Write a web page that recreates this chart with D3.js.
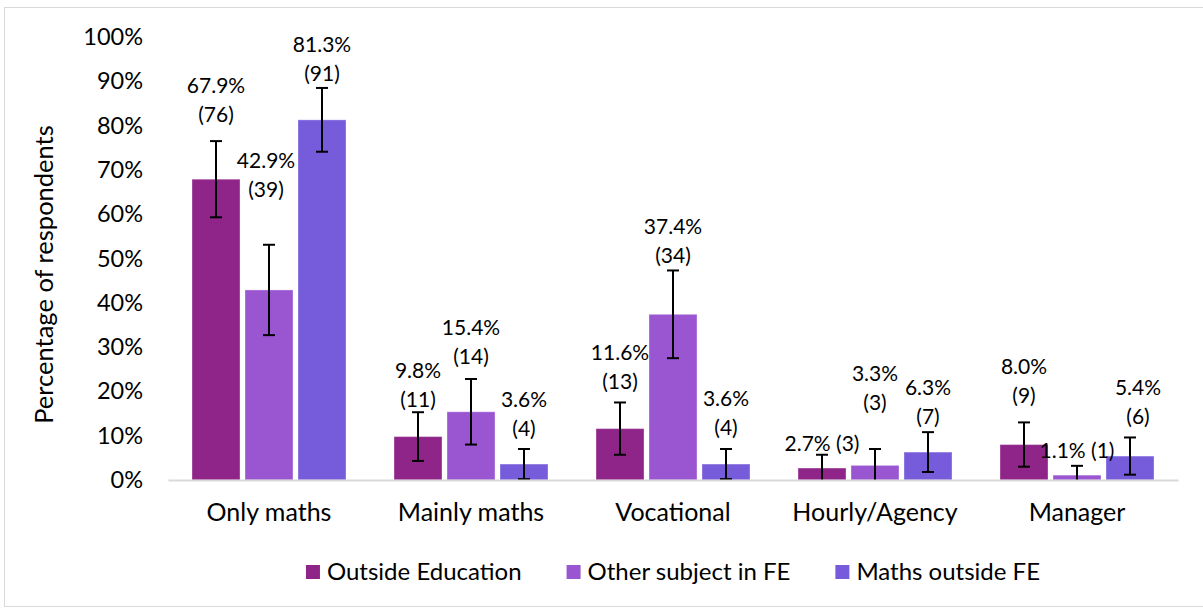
<!DOCTYPE html>
<html>
<head>
<meta charset="utf-8">
<script src="https://cdn.jsdelivr.net/npm/d3@7"></script>
<style>
  body { margin: 0; background: #fff; }
  text { font-family: Lato, "Noto Sans", sans-serif; fill: #000; }
</style>
</head>
<body>
<div id="chart"></div>
<script>
// Categories and series
const categories = ['Only maths', 'Mainly maths', 'Vocational', 'Hourly/Agency', 'Manager'];
const seriesNames = ['Outside Education', 'Other subject in FE', 'Maths outside FE'];

// Percent values
const outsideEducation = [67.9, 9.8, 11.6, 2.7, 8.0];
const otherSubjectFE = [42.9, 15.4, 37.4, 3.3, 1.1];
const mathsOutsideFE = [81.3, 3.6, 3.6, 6.3, 5.4];

// Counts
const outsideEducationN = [76, 11, 13, 3, 9];
const otherSubjectFEN = [39, 14, 34, 3, 1];
const mathsOutsideFEN = [91, 4, 4, 7, 6];

// Error bar half-widths (percentage points)
const outsideEducationErr = [8.6, 5.5, 5.9, 3.0, 5.0];
const otherSubjectFEErr = [10.2, 7.4, 9.9, 3.7, 2.1];
const mathsOutsideFEErr = [7.2, 3.4, 3.4, 4.5, 4.2];

// Where the data labels sit (value on the y scale of the first line)
const outsideEducationLabelAt = [89.2, 24.8, 28.9, 8.4, 25.7];
const otherSubjectFELabelAt = [72.2, 34.5, 57.3, 24.2, 6.8];
const mathsOutsideFELabelAt = [98.4, 18.3, 18.5, 21.0, 21.0];
const labelOneLine = [[false, false, false, true, false], [false, false, false, false, true], [false, false, false, false, false]];
const labelDx = [[0, 0, 0, 0, 0], [-3, 0, 0, 0, 0], [0, 0, 0, 0, 8]];

const yTicks = [0, 10, 20, 30, 40, 50, 60, 70, 80, 90, 100];
const colors = ['#8F2589', '#9A55D1', '#765CDA'];

const values = [outsideEducation, otherSubjectFE, mathsOutsideFE];
const counts = [outsideEducationN, otherSubjectFEN, mathsOutsideFEN];
const errs = [outsideEducationErr, otherSubjectFEErr, mathsOutsideFEErr];
const labelAt = [outsideEducationLabelAt, otherSubjectFELabelAt, mathsOutsideFELabelAt];

const W = 1203, H = 612;
const plot = { left: 168, right: 1178, top: 37, bottom: 480 };

const svg = d3.select('#chart').append('svg')
  .attr('width', W)
  .attr('height', H);

// Outer frame
svg.append('rect')
  .attr('x', 4.5).attr('y', 7.5)
  .attr('width', W - 4).attr('height', 599)
  .attr('fill', '#fff')
  .attr('stroke', '#d9d9d9')
  .attr('stroke-width', 1);

const x0 = d3.scaleBand()
  .domain(categories)
  .range([plot.left, plot.right])
  .paddingInner(0.2376)
  .paddingOuter(0.1188);

const x1 = d3.scaleBand()
  .domain(d3.range(seriesNames.length))
  .range([0, x0.bandwidth()])
  .paddingInner(0.094);

const y = d3.scaleLinear()
  .domain([0, 100])
  .range([plot.bottom, plot.top]);

// Y axis (labels only)
const yAxis = svg.append('g')
  .attr('transform', `translate(${plot.left},0)`)
  .call(d3.axisLeft(y).tickValues(yTicks).tickSize(0).tickPadding(25).tickFormat(d => d + '%'));
yAxis.select('.domain').remove();
yAxis.selectAll('text')
  .attr('font-size', '23.5px')
  .style('font-family', 'Lato, sans-serif')
  .attr('fill', '#000');

// Y axis title
svg.append('text')
  .attr('transform', `translate(53,${(plot.top + plot.bottom) / 2 + 16}) rotate(-90)`)
  .attr('text-anchor', 'middle')
  .attr('font-size', '25.5px')
  .text('Percentage of respondents');

// Bars
const groups = svg.append('g').selectAll('g')
  .data(categories)
  .join('g')
  .attr('transform', d => `translate(${x0(d)},0)`);

seriesNames.forEach((name, s) => {
  groups.append('rect')
    .attr('x', x1(s))
    .attr('y', (d, i) => y(values[s][i]))
    .attr('width', x1.bandwidth())
    .attr('height', (d, i) => y(0) - y(values[s][i]))
    .attr('fill', colors[s])
    .attr('stroke', '#fff')
    .attr('stroke-opacity', 0.35)
    .attr('stroke-width', 1);
});

// X axis line
const xAxis = svg.append('g')
  .attr('transform', `translate(0,${plot.bottom})`)
  .call(d3.axisBottom(x0).tickSize(0).tickPadding(23));
xAxis.select('.domain')
  .attr('stroke', '#d9d9d9')
  .attr('stroke-width', 2);
xAxis.selectAll('text')
  .attr('font-size', '25px')
  .style('font-family', 'Lato, sans-serif')
  .attr('fill', '#000');

// Error bars
const cap = 6;
seriesNames.forEach((name, s) => {
  const eb = groups.append('g')
    .attr('stroke', '#000')
    .attr('stroke-width', 2);
  eb.append('line')
    .attr('x1', x1(s) + x1.bandwidth() / 2)
    .attr('x2', x1(s) + x1.bandwidth() / 2)
    .attr('y1', (d, i) => y(values[s][i] + errs[s][i]))
    .attr('y2', (d, i) => y(Math.max(0, values[s][i] - errs[s][i])));
  eb.append('line')
    .attr('x1', x1(s) + x1.bandwidth() / 2 - cap)
    .attr('x2', x1(s) + x1.bandwidth() / 2 + cap)
    .attr('y1', (d, i) => y(values[s][i] + errs[s][i]))
    .attr('y2', (d, i) => y(values[s][i] + errs[s][i]));
  eb.append('line')
    .attr('x1', x1(s) + x1.bandwidth() / 2 - cap)
    .attr('x2', x1(s) + x1.bandwidth() / 2 + cap)
    .attr('y1', (d, i) => y(Math.max(0, values[s][i] - errs[s][i])))
    .attr('y2', (d, i) => y(Math.max(0, values[s][i] - errs[s][i])))
    .attr('stroke-opacity', (d, i) => values[s][i] - errs[s][i] < 0 ? 0 : 1);
});

// Data labels
seriesNames.forEach((name, s) => {
  const lbl = groups.append('text')
    .attr('text-anchor', 'middle')
    .attr('font-size', '21px')
    .attr('x', (d, i) => x1(s) + x1.bandwidth() / 2 + labelDx[s][i])
    .attr('y', (d, i) => y(labelAt[s][i]) + 8);
  lbl.each(function(d, i) {
    const t = d3.select(this);
    const pct = values[s][i].toFixed(1) + '%';
    const cnt = '(' + counts[s][i] + ')';
    if (labelOneLine[s][i]) {
      t.text(pct + ' ' + cnt);
    } else {
      t.append('tspan').attr('x', t.attr('x')).text(pct);
      t.append('tspan').attr('x', t.attr('x')).attr('dy', 29).text(cnt);
    }
  });
});

// Legend
const legend = svg.append('g').attr('transform', `translate(0,572)`);
const items = legend.selectAll('g')
  .data(seriesNames)
  .join('g');
items.append('rect')
  .attr('y', -7)
  .attr('width', 14)
  .attr('height', 14)
  .attr('fill', (d, i) => colors[i]);
items.append('text')
  .attr('x', 21)
  .attr('y', 8)
  .attr('font-size', '24px')
  .text(d => d);

const widths = [];
items.each(function() {
  widths.push(this.getBBox().width);
});
const gap = 45;
const total = d3.sum(widths) + gap * (widths.length - 1);
let start = (plot.left + plot.right) / 2 - total / 2;
items.attr('transform', (d, i) => {
  const tx = start;
  start += widths[i] + gap;
  return `translate(${tx},0)`;
});
</script>
</body>
</html>
